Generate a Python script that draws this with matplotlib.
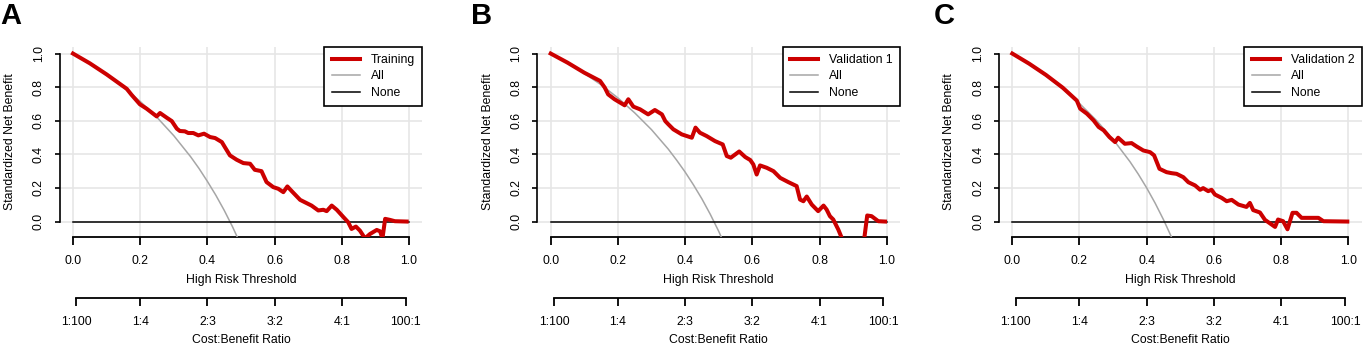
import numpy as np
import matplotlib.pyplot as plt

plt.rcParams['font.family'] = ['Liberation Sans', 'DejaVu Sans']
plt.rcParams['font.size'] = 8.8

panel_letters = ['A', 'B', 'C']
model_names = ['Training', 'Validation 1', 'Validation 2']

# model curves (threshold, standardized net benefit)
train_t = [0.0, 0.05, 0.1, 0.16, 0.174, 0.199, 0.219, 0.249, 0.259, 0.279, 0.294, 0.309, 0.318,
           0.333, 0.343, 0.358, 0.373, 0.39, 0.408, 0.423, 0.443, 0.452, 0.467, 0.487,
           0.507, 0.527, 0.541, 0.561, 0.576, 0.596, 0.611, 0.626, 0.638, 0.651, 0.676,
           0.69, 0.71, 0.73, 0.745, 0.755, 0.77, 0.785, 0.805, 0.819, 0.829, 0.842,
           0.854, 0.869, 0.884, 0.904, 0.914, 0.921, 0.929, 0.943, 0.958, 0.993]
train_nb = [1.0, 0.942, 0.876, 0.79, 0.755, 0.698, 0.672, 0.626, 0.646, 0.618, 0.598, 0.553, 0.539,
            0.537, 0.527, 0.527, 0.513, 0.523, 0.503, 0.497, 0.473, 0.443, 0.394, 0.368,
            0.348, 0.344, 0.308, 0.3, 0.235, 0.205, 0.195, 0.175, 0.209, 0.181, 0.129,
            0.115, 0.095, 0.066, 0.07, 0.062, 0.095, 0.07, 0.026, -0.004, -0.044, -0.03,
            -0.054, -0.1, -0.074, -0.05, -0.058, -0.1, 0.016, 0.01, 0.002, 0.0]

val1_t = [0.0, 0.05, 0.1, 0.147, 0.161, 0.171, 0.19, 0.22, 0.231, 0.246, 0.266, 0.29, 0.31, 0.331,
          0.341, 0.35, 0.365, 0.39, 0.42, 0.431, 0.444, 0.464, 0.489, 0.512, 0.524,
          0.536, 0.561, 0.579, 0.594, 0.603, 0.613, 0.623, 0.643, 0.663, 0.683, 0.707,
          0.732, 0.742, 0.752, 0.762, 0.777, 0.796, 0.812, 0.821, 0.831, 0.841, 0.856,
          0.875, 0.905, 0.932, 0.942, 0.955, 0.975, 0.995]
val1_nb = [1.0, 0.946, 0.886, 0.837, 0.797, 0.757, 0.728, 0.692, 0.728, 0.684, 0.668, 0.638, 0.664,
           0.638, 0.598, 0.579, 0.549, 0.519, 0.499, 0.559, 0.529, 0.509, 0.479, 0.459,
           0.39, 0.38, 0.417, 0.384, 0.366, 0.34, 0.28, 0.334, 0.32, 0.3, 0.26, 0.235,
           0.211, 0.131, 0.121, 0.149, 0.101, 0.062, 0.095, 0.072, 0.032, 0.012, -0.048,
           -0.14, -0.2, -0.12, 0.036, 0.032, 0.002, 0.0]

val2_t = [0.0, 0.05, 0.1, 0.15, 0.192, 0.202, 0.222, 0.242, 0.257, 0.272, 0.289, 0.306,
          0.315, 0.335, 0.355, 0.37, 0.39, 0.41, 0.422, 0.438, 0.459, 0.474, 0.489,
          0.509, 0.524, 0.544, 0.559, 0.568, 0.583, 0.593, 0.603, 0.623, 0.638, 0.653,
          0.673, 0.697, 0.707, 0.717, 0.737, 0.752, 0.772, 0.782, 0.791, 0.806, 0.819,
          0.834, 0.846, 0.861, 0.886, 0.911, 0.926, 0.997]
val2_nb = [1.0, 0.94, 0.873, 0.797, 0.72, 0.672, 0.642, 0.602, 0.563, 0.543, 0.503, 0.473,
           0.499, 0.463, 0.467, 0.447, 0.423, 0.413, 0.394, 0.314, 0.294, 0.288, 0.284,
           0.264, 0.234, 0.215, 0.189, 0.199, 0.181, 0.189, 0.161, 0.141, 0.121, 0.129,
           0.101, 0.087, 0.111, 0.068, 0.054, 0.01, -0.018, -0.032, 0.012, 0.002, -0.046,
           0.052, 0.052, 0.022, 0.022, 0.022, 0.002, 0.0]

# "All" reference curves
all_t = [0.0, 0.05, 0.1, 0.15, 0.2, 0.25, 0.3, 0.35, 0.375, 0.4, 0.425, 0.45, 0.475, 0.5, 0.525, 0.55]
all_train = [1.0, 0.94, 0.873, 0.799, 0.715, 0.62, 0.511, 0.386, 0.316, 0.239, 0.157, 0.067,
             -0.032, -0.141, -0.261, -0.39]
all_val1 = [1.0, 0.944, 0.882, 0.814, 0.736, 0.647, 0.547, 0.431, 0.365, 0.295, 0.218, 0.135,
            0.043, -0.058, -0.17, -0.293]
all_val2 = [1.0, 0.937, 0.868, 0.79, 0.703, 0.603, 0.489, 0.357, 0.282, 0.2, 0.11, 0.011,
            -0.098, -0.217, -0.35, -0.5]

ratio_pos = [1 / 101, 0.2, 0.4, 0.6, 0.8, 100 / 101]
ratio_labels = ['1:100', '1:4', '2:3', '3:2', '4:1', '100:1']

curves_t = [train_t, val1_t, val2_t]
curves_nb = [train_nb, val1_nb, val2_nb]
all_curves = [all_train, all_val1, all_val2]

W, H = 1363, 344
fig = plt.figure(figsize=(W / 100, H / 100), dpi=100)

x0_px = [73.0, 550.7, 1012.3]   # pixel of threshold 0 for each panel
letter_px = [0, 471, 934]
unit = 336.0
top_px, bot_px = 46.5, 237.0
ax2_px = 298.0
red = '#cc0000'

for i in range(3):
    left = (x0_px[i] - 0.04 * unit) / W
    width = 1.08 * unit / W
    ax = fig.add_axes([left, 1 - bot_px / H, width, (bot_px - top_px) / H])
    ax.set_xlim(-0.04, 1.04)
    ax.set_ylim(-0.092, 1.042)
    ticks = [0, 0.2, 0.4, 0.6, 0.8, 1.0]
    ax.set_xticks(ticks)
    ax.set_yticks(ticks)
    ax.set_xticklabels(['%.1f' % v for v in ticks])
    ax.set_yticklabels(['%.1f' % v for v in ticks], rotation=90, va='center')
    ax.grid(color='#e6e6e6', lw=1.2)
    ax.set_axisbelow(True)
    for s in ['top', 'right']:
        ax.spines[s].set_visible(False)
    ax.spines['left'].set_bounds(0, 1)
    ax.spines['bottom'].set_bounds(0, 1)
    ax.spines['left'].set_linewidth(1.2)
    ax.spines['bottom'].set_linewidth(1.3)
    ax.tick_params(axis='x', length=6, width=1.3, pad=7)
    ax.tick_params(axis='y', length=3.6, width=1.2, pad=7)

    ax.plot(curves_t[i], curves_nb[i], color=red, lw=2.9, label=model_names[i],
            solid_joinstyle='round', zorder=4)
    ax.plot(all_t, all_curves[i], color='#a6a6a6', lw=1.1, label='All', zorder=3)
    ax.plot([0, 1], [0, 0], color='black', lw=1.1, label='None', zorder=3)

    ax.set_xlabel('High Risk Threshold', labelpad=5)
    ax.set_ylabel('Standardized Net Benefit', labelpad=12)

    leg = ax.legend(loc='upper right', borderaxespad=0, fancybox=False,
                    edgecolor='black', framealpha=1, handlelength=2.3,
                    handletextpad=0.9, labelspacing=0.38, borderpad=0.6)
    leg.get_frame().set_linewidth(1.2)

    # second axis: cost:benefit ratio
    axr = fig.add_axes([left, 1 - ax2_px / H, width, 0.0001])
    axr.set_xlim(-0.04, 1.04)
    axr.set_yticks([])
    for s in ['top', 'right', 'left']:
        axr.spines[s].set_visible(False)
    axr.spines['bottom'].set_bounds(ratio_pos[0], ratio_pos[-1])
    axr.spines['bottom'].set_linewidth(1.3)
    axr.patch.set_visible(False)
    axr.set_xticks(ratio_pos)
    axr.set_xticklabels(ratio_labels)
    axr.tick_params(axis='x', length=6, width=1.3, pad=7)
    axr.set_xlabel('Cost:Benefit Ratio', labelpad=4)

    fig.text(letter_px[i] / W, 1 - 2 / H, panel_letters[i], fontsize=21,
             fontweight='bold', ha='left', va='top')

fig.savefig('out.png', dpi=100)
